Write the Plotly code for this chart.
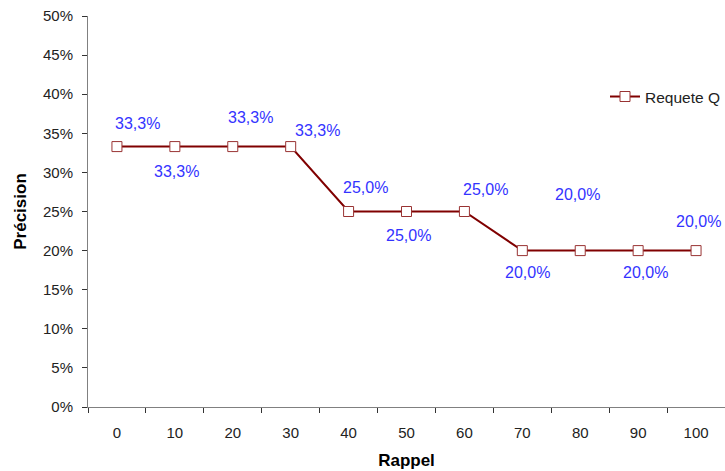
import plotly.graph_objects as go

categories = ["0", "10", "20", "30", "40", "50", "60", "70", "80", "90", "100"]
precision = [0.333, 0.333, 0.333, 0.333, 0.25, 0.25, 0.25, 0.20, 0.20, 0.20, 0.20]
series_name = "Requete Q"
y_ticks = [0, 0.05, 0.10, 0.15, 0.20, 0.25, 0.30, 0.35, 0.40, 0.45, 0.50]
# label offsets (px) for the manually placed data labels
label_dx = [21, 2, 18, 27, 17, 2, 21, 5, -3, 7, 2]
label_dy = [23, -25, 29, 16, 24, -24, 22, -22, 56, -22, 29]

FONT = "Liberation Sans, Arial, sans-serif"

fig = go.Figure()
fig.add_trace(go.Scatter(
    x=categories, y=precision, name=series_name, mode="lines+markers",
    line=dict(color="#800000", width=2),
    marker=dict(symbol="square", size=10, color="white",
                line=dict(color="#993333", width=1)),
))

for i, (v, dx, dy) in enumerate(zip(precision, label_dx, label_dy)):
    fig.add_annotation(x=i, y=v, text=f"{v*100:.1f}%".replace(".", ","),
                       showarrow=False, xshift=dx, yshift=dy,
                       font=dict(family=FONT, size=16, color="#3333FF"))

fig.update_layout(
    width=725, height=471,
    margin=dict(l=88, r=0, t=16, b=64),
    paper_bgcolor="white", plot_bgcolor="white",
    font=dict(family=FONT, size=15, color="#222222"),
    separators=", ",
    showlegend=True,
    legend=dict(x=0.812, y=0.793, xanchor="left", yanchor="middle",
                bgcolor="rgba(0,0,0,0)", font=dict(size=15.5, color="#222222"),
                itemwidth=30, borderwidth=0),
    xaxis=dict(type="category", range=[-0.5, 10.5], tickson="boundaries",
               ticks="outside", ticklen=5, tickcolor="#333333",
               ticklabelstandoff=12,
               showline=True, linecolor="#808080", linewidth=1,
               showgrid=False, zeroline=False,
               title=dict(text="<b>Rappel</b>", standoff=14,
                          font=dict(size=17, color="black"))),
    yaxis=dict(range=[0, 0.5], tickvals=y_ticks, tickformat=".0%",
               ticks="outside", ticklen=5, tickcolor="#333333",
               ticklabelstandoff=6, ticklabeloverflow="allow",
               showline=True, linecolor="#808080", linewidth=1,
               showgrid=False, zeroline=False,
               title=dict(text="<b>Précision</b>", standoff=12,
                          font=dict(size=17, color="black"))),
)

fig.write_html("out.html",
               config={"displayModeBar": False},
               post_script="document.body.style.margin='0';document.body.style.overflow='hidden';")
